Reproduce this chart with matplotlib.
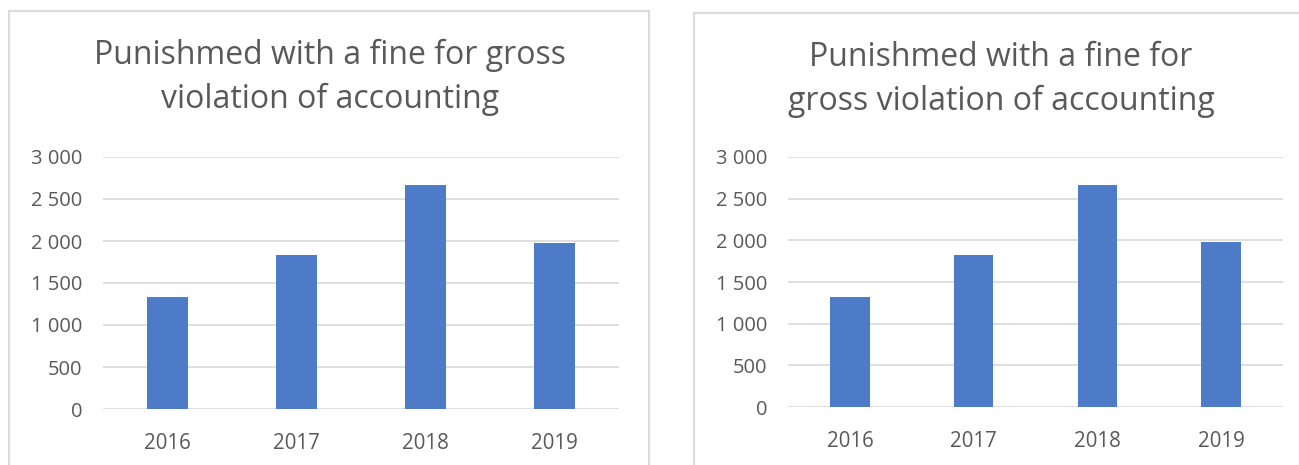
import matplotlib.pyplot as plt
from matplotlib.patches import Rectangle

# data
years = ['2016', '2017', '2018', '2019']
fines_left = [1330, 1830, 2670, 1980]
fines_right = [1320, 1825, 2660, 1975]
y_ticks = [0, 500, 1000, 1500, 2000, 2500, 3000]
y_tick_labels = ['0', '500', '1 000', '1 500', '2 000', '2 500', '3 000']
title_left = ['Punishmed with a fine for gross', 'violation of accounting']
title_right = ['Punishmed with a fine for', 'gross violation of accounting']

W, H = 1299, 465
bar_color = '#4e7bc8'
text_color = '#595959'
grid_color = '#d9d9d9'

plt.rcParams['font.family'] = ['Open Sans', 'DejaVu Sans']

fig = plt.figure(figsize=(W / 100, H / 100), dpi=100)

# panel frames (pixel coords -> figure coords)
def frame(x0, x1, y_top):
    fig.patches.append(Rectangle((x0 / W, -0.05), (x1 - x0) / W, (H - y_top) / H + 0.05,
                                 transform=fig.transFigure, fill=False,
                                 edgecolor='#dcdcdc', lw=1.6))

frame(9, 649, 11)
frame(694, 1310, 13)

def panel(px_left, px_right, px_top, px_bottom, values, title, cx, baselines):
    ax = fig.add_axes([px_left / W, (H - px_bottom) / H,
                       (px_right - px_left) / W, (px_bottom - px_top) / H])
    x = range(len(years))
    ax.bar(x, values, width=0.32, color=bar_color, zorder=3)
    ax.set_xlim(-0.5, len(years) - 0.5)
    ax.set_ylim(0, 3000)
    ax.set_yticks(y_ticks)
    ax.set_yticklabels(y_tick_labels)
    ax.set_xticks(list(x))
    ax.set_xticklabels(years)
    ax.grid(axis='y', color=grid_color, lw=1.2, zorder=0)
    for s in ax.spines.values():
        s.set_visible(False)
    ax.tick_params(axis='y', length=0, pad=15, labelsize=14.5, labelcolor=text_color)
    ax.tick_params(axis='x', length=0, pad=17, labelsize=14.8, labelcolor=text_color)
    for line, yb in zip(title, baselines):
        fig.text(cx / W, 1 - yb / H, line, ha='center', va='baseline',
                 fontsize=23, color=text_color)
    return ax

panel(103, 619, 157, 409, fines_left, title_left, 330, [64, 108])
panel(788, 1283, 157, 407, fines_right, title_right, 1001, [66, 110])

fig.savefig('out.png', dpi=100)
